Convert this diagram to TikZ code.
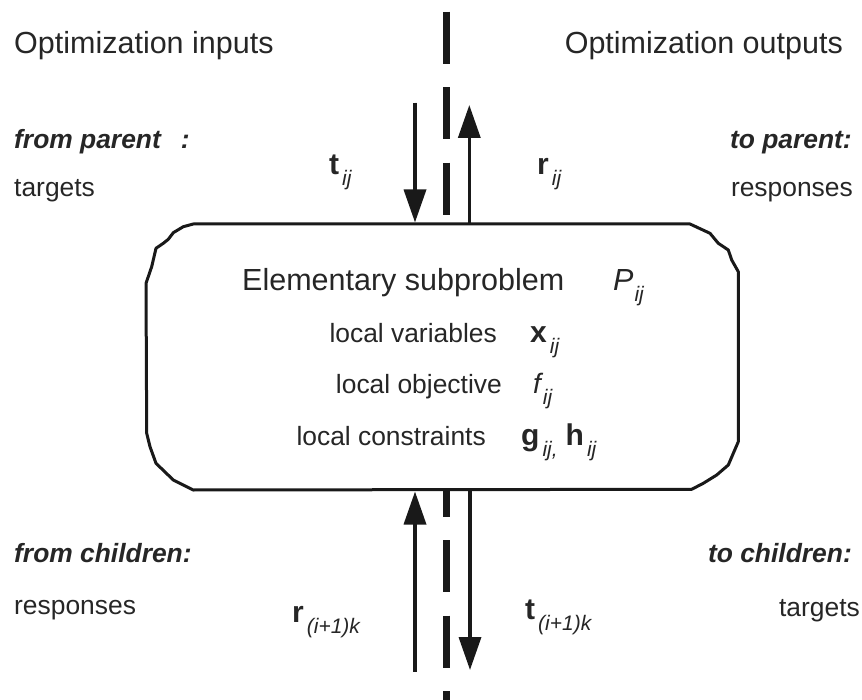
\documentclass[tikz,border=0pt]{standalone}
\usepackage{fontspec}
\setmainfont{Liberation Sans}
\usetikzlibrary{arrows.meta}
\newcommand{\bigtxt}{\fontsize{30.5}{34}\selectfont}
\newcommand{\smtxt}{\fontsize{26.4}{30}\selectfont}
\newcommand{\sbs}[1]{\raisebox{-11pt}{\fontsize{21}{24}\selectfont\itshape #1}}
\newcommand{\vsym}[2]{{\fontsize{30}{32}\selectfont\bfseries #1}\hspace{3pt}\sbs{#2}}
\tikzset{
  lab/.style={inner sep=0pt, font=\smtxt, text=black!85},
  biglab/.style={inner sep=0pt, font=\bigtxt, text=black!85},
  flow/.style={line width=3.5pt, draw=black!90, fill=black!90, -{Triangle[width=22pt,length=33pt]}},
  divider/.style={line width=7pt, dash pattern=on 52pt off 23.5pt, draw=black!90},
  boxline/.style={line width=3pt, line join=round, draw=black!90, fill=white}
}
\begin{document}
\begin{tikzpicture}[x=1pt,y=-1pt]
\useasboundingbox (0,0) rectangle (862,700);
% divider
\coordinate (dtop) at (446,11.7);
\coordinate (dbot) at (446,700);
\draw[divider] (dtop) -- (dbot);
% box
\draw[boxline] (146,283.3) -- (151.7,266.7) -- (156,248.3) -- (163.3,243.3) -- (168.3,239.3) -- (173.3,232.7) -- (183.3,226.7) -- (193.3,224)
  -- (690,224) -- (710,233.3) -- (718.3,243.3) -- (728.3,250) -- (731.7,260) -- (738.3,271.7)
  -- (738.3,441.7) -- (733.3,453.3) -- (728.3,465) -- (716.7,475) -- (703.3,483.3) -- (691.7,489.3)
  -- (193.3,490) -- (173.3,480) -- (156,463.3) -- (150,446.7) -- (146.7,433.3) -- cycle;
% arrow end points
\coordinate (a1s) at (415,102.7);
\coordinate (a1e) at (415,222.5);
\coordinate (a2s) at (469.3,224);
\coordinate (a2e) at (469.3,105);
\coordinate (a3s) at (415,671.7);
\coordinate (a3e) at (415,491.5);
\coordinate (a4s) at (470,490);
\coordinate (a4e) at (470,670);
\draw[flow] (a1s) -- (a1e);
\draw[flow] (a2s) -- (a2e);
\draw[flow] (a3s) -- (a3e);
\draw[flow] (a4s) -- (a4e);
% headings
\node[biglab, anchor=base west] (hin) at (14,54) {Optimization inputs};
\node[biglab, anchor=base east] (hout) at (843,54) {Optimization outputs};
% top labels
\node[lab, anchor=base west] (fp) at (14,149) {\bfseries\itshape from parent\hspace{20pt}:};
\node[lab, anchor=base west] (tg1) at (14,197) {targets};
\node[lab, anchor=base east] (tp) at (852,149) {\bfseries\itshape to parent:};
\node[lab, anchor=base east] (rs1) at (853,197) {responses};
\node[lab, anchor=base west] (tij) at (329,175) {\vsym{t}{ij}};
\node[lab, anchor=base west] (rij) at (537,175) {\vsym{r}{ij}};
% box content
\node[biglab, anchor=base west] (title) at (242,291) {Elementary subproblem};
\node[biglab, anchor=base west] (P) at (613,291) {{\itshape P}\hspace{1pt}\sbs{ij}};
\node[lab, anchor=base east] (lv) at (497,343) {local variables};
\node[lab, anchor=base west] (xij) at (530,343) {\vsym{x}{ij}};
\node[lab, anchor=base east] (lo) at (502,394) {local objective};
\node[lab, anchor=base west] (fij) at (533,394) {{\fontsize{28}{30}\selectfont\itshape f}\hspace{2pt}\sbs{ij}};
\node[lab, anchor=base east] (lc) at (486,445) {local constraints};
\node[lab, anchor=base west] (gh) at (521,445) {\vsym{g}{ij,}\hspace{8pt}\vsym{h}{ij}};
% bottom labels
\node[lab, anchor=base west] (fc) at (14,562) {\bfseries\itshape from children:};
\node[lab, anchor=base west] (rs2) at (14,614) {responses};
\node[lab, anchor=base east] (tc) at (852,562) {\bfseries\itshape to children:};
\node[lab, anchor=base east] (tg2) at (860,616) {targets};
\node[lab, anchor=base west] (rk) at (292,622) {\vsym{r}{(i+1)k}};
\node[lab, anchor=base west] (tk) at (525,619) {\vsym{t}{(i+1)k}};
\end{tikzpicture}
\end{document}
